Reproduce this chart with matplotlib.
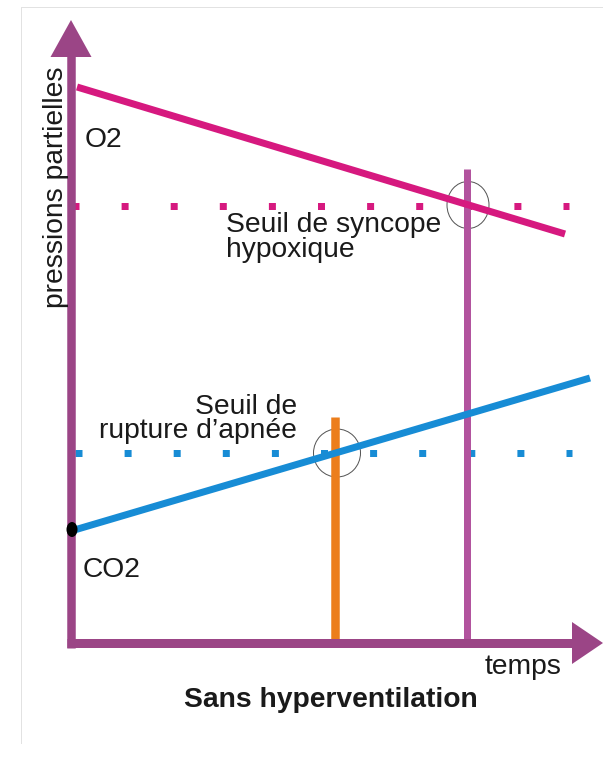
import matplotlib
matplotlib.use("Agg")
import matplotlib.pyplot as plt
from matplotlib.patches import Polygon, Ellipse

plt.rcParams['font.family'] = ['Liberation Sans', 'DejaVu Sans']

# ---- data (time / partial pressure, arbitrary units) ----
o2_time = [6, 494]
o2_pressure = [556, 409]
co2_time = [0, 519]
co2_pressure = [112, 265]
syncope_threshold = 437
rupture_threshold = 190
syncope_time = 396
syncope_top = 474
rupture_time = 264
rupture_top = 226
axis_x_end = 532
axis_y_end = 623

title = "Sans hyperventilation"
ylabel = "pressions partielles"
xlabel = "temps"
syncope_label = "Seuil de syncope\nhypoxique"
rupture_label = "Seuil de\nrupture d\u2019apnée"

PX = 0.72  # points per pixel at 100 dpi
purple = "#9B4586"
magenta = "#D6197F"
blue = "#178CD5"
orange = "#EC7E1C"
lilac = "#B2539E"

fig = plt.figure(figsize=(6.03, 7.69), dpi=100)
ax = fig.add_axes([0, 0, 1, 1])
ax.set_xlim(-71, 532)
ax.set_ylim(643 - 769, 643)
ax.axis('off')

# faint frame
ax.plot([-50, 532], [636, 636], color="#E2E2E2", lw=1 * PX)
ax.plot([-50, -50], [636, -100], color="#E2E2E2", lw=1 * PX)

# threshold dotted lines
on = 1.0
off = (49.1 - 7) / 7
ax.plot([1, 498], [syncope_threshold] * 2, color=magenta, lw=7 * PX,
        linestyle=(0, (on, off)), solid_capstyle='butt', dash_capstyle='butt')
ax.plot([4, 501], [rupture_threshold] * 2, color=blue, lw=7 * PX,
        linestyle=(0, (on, off)), solid_capstyle='butt', dash_capstyle='butt')

# vertical markers
ax.plot([syncope_time, syncope_time], [0, syncope_top], color=lilac, lw=7 * PX,
        solid_capstyle='butt')
ax.plot([rupture_time, rupture_time], [0, rupture_top], color=orange, lw=8.5 * PX,
        solid_capstyle='butt')

# gas curves
ax.plot(o2_time, o2_pressure, color=magenta, lw=7 * PX, solid_capstyle='butt')
ax.plot(co2_time, co2_pressure, color=blue, lw=7 * PX, solid_capstyle='butt')

# circles at intersections
ax.add_patch(Ellipse((397, 438), 42, 47, fill=False, edgecolor="#555555", lw=1 * PX))
ax.add_patch(Ellipse((266, 190), 47, 48, fill=False, edgecolor="#555555", lw=1 * PX))

# axes with arrows
ax.plot([0, 0], [-5, 590], color=purple, lw=8.5 * PX, solid_capstyle='butt')
ax.plot([-4, 505], [0, 0], color=purple, lw=9 * PX, solid_capstyle='butt')
ax.add_patch(Polygon([[-20.5, 586], [20.5, 586], [0, axis_y_end]], closed=True,
                     color=purple, lw=0))
ax.add_patch(Polygon([[501, 21], [501, -21], [axis_x_end, 0]], closed=True,
                     color=purple, lw=0))

# black dot at CO2 start
ax.add_patch(Ellipse((1, 113.5), 11, 15, color="black", lw=0, zorder=5))

# texts
fs = 20.3
tc = "#1a1a1a"
ax.text(14, 496, "O2", fontsize=fs, color=tc, ha='left', va='baseline')
ax.text(12, 66, "CO2", fontsize=fs, color=tc, ha='left', va='baseline')
ax.text(155, 386, syncope_label, fontsize=fs, color=tc, ha='left', va='baseline',
        multialignment='left', linespacing=0.95)
ax.text(226, 205, rupture_label, fontsize=fs, color=tc, ha='right', va='baseline',
        multialignment='right', linespacing=0.92)
ax.text(414, -31, xlabel, fontsize=fs, color=tc, ha='left', va='baseline')
ax.text(260, -64, title, fontsize=fs, fontweight='bold', color=tc,
        ha='center', va='baseline')
ax.text(-8, 456, ylabel, fontsize=fs, color=tc, rotation=90,
        rotation_mode='anchor', ha='center', va='baseline')

fig.savefig("out.png", dpi=100, facecolor="white")
